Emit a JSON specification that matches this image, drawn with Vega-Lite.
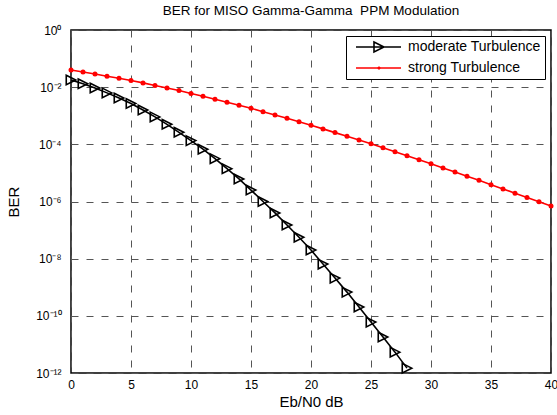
{
  "$schema": "https://vega.github.io/schema/vega-lite/v6.json",
  "autosize": {"type": "none"},
  "padding": {"left": 71, "top": 30, "right": 6, "bottom": 42},
  "width": 480,
  "height": 343,
  "background": "white",
  "title": {"text": "BER for MISO Gamma-Gamma\u00a0 PPM Modulation", "font": "Liberation Sans", "fontSize": 13.5, "fontWeight": "normal", "color": "#000", "anchor": "middle", "offset": 7},
  "config": {
    "view": {"stroke": "#000", "strokeWidth": 1.5},
    "axis": {
      "labelFont": "Liberation Sans", "labelFontSize": 12, "labelColor": "#000",
      "titleFont": "Liberation Sans", "titleFontSize": 15, "titleFontWeight": "normal", "titleColor": "#000",
      "ticks": false, "domain": false,
      "grid": true, "gridColor": "#555", "gridDash": [7, 8], "gridWidth": 1, "gridOpacity": 1
    }
  },
  "datasets": {
    "ber": [
      {"ebn0": 0, "ber": 0.0178, "series": "moderate Turbulence"},
      {"ebn0": 1, "ber": 0.0132, "series": "moderate Turbulence"},
      {"ebn0": 2, "ber": 0.00933, "series": "moderate Turbulence"},
      {"ebn0": 3, "ber": 0.00631, "series": "moderate Turbulence"},
      {"ebn0": 4, "ber": 0.00417, "series": "moderate Turbulence"},
      {"ebn0": 5, "ber": 0.00269, "series": "moderate Turbulence"},
      {"ebn0": 6, "ber": 0.00158, "series": "moderate Turbulence"},
      {"ebn0": 7, "ber": 0.000912, "series": "moderate Turbulence"},
      {"ebn0": 8, "ber": 0.000501, "series": "moderate Turbulence"},
      {"ebn0": 9, "ber": 0.000263, "series": "moderate Turbulence"},
      {"ebn0": 10, "ber": 0.000135, "series": "moderate Turbulence"},
      {"ebn0": 11, "ber": 6.76e-5, "series": "moderate Turbulence"},
      {"ebn0": 12, "ber": 3.16e-5, "series": "moderate Turbulence"},
      {"ebn0": 13, "ber": 1.41e-5, "series": "moderate Turbulence"},
      {"ebn0": 14, "ber": 6.17e-6, "series": "moderate Turbulence"},
      {"ebn0": 15, "ber": 2.51e-6, "series": "moderate Turbulence"},
      {"ebn0": 16, "ber": 1.0e-6, "series": "moderate Turbulence"},
      {"ebn0": 17, "ber": 3.98e-7, "series": "moderate Turbulence"},
      {"ebn0": 18, "ber": 1.51e-7, "series": "moderate Turbulence"},
      {"ebn0": 19, "ber": 5.62e-8, "series": "moderate Turbulence"},
      {"ebn0": 20, "ber": 2.0e-8, "series": "moderate Turbulence"},
      {"ebn0": 21, "ber": 6.46e-9, "series": "moderate Turbulence"},
      {"ebn0": 22, "ber": 2.09e-9, "series": "moderate Turbulence"},
      {"ebn0": 23, "ber": 6.76e-10, "series": "moderate Turbulence"},
      {"ebn0": 24, "ber": 2.04e-10, "series": "moderate Turbulence"},
      {"ebn0": 25, "ber": 6.03e-11, "series": "moderate Turbulence"},
      {"ebn0": 26, "ber": 1.82e-11, "series": "moderate Turbulence"},
      {"ebn0": 27, "ber": 5.37e-12, "series": "moderate Turbulence"},
      {"ebn0": 28, "ber": 1.48e-12, "series": "moderate Turbulence"},
      {"ebn0": 0, "ber": 0.0398, "series": "strong Turbulence"},
      {"ebn0": 1, "ber": 0.0339, "series": "strong Turbulence"},
      {"ebn0": 2, "ber": 0.0288, "series": "strong Turbulence"},
      {"ebn0": 3, "ber": 0.0240, "series": "strong Turbulence"},
      {"ebn0": 4, "ber": 0.0204, "series": "strong Turbulence"},
      {"ebn0": 5, "ber": 0.0170, "series": "strong Turbulence"},
      {"ebn0": 6, "ber": 0.0141, "series": "strong Turbulence"},
      {"ebn0": 7, "ber": 0.0115, "series": "strong Turbulence"},
      {"ebn0": 8, "ber": 0.00933, "series": "strong Turbulence"},
      {"ebn0": 9, "ber": 0.00759, "series": "strong Turbulence"},
      {"ebn0": 10, "ber": 0.00603, "series": "strong Turbulence"},
      {"ebn0": 11, "ber": 0.00479, "series": "strong Turbulence"},
      {"ebn0": 12, "ber": 0.00380, "series": "strong Turbulence"},
      {"ebn0": 13, "ber": 0.00295, "series": "strong Turbulence"},
      {"ebn0": 14, "ber": 0.00234, "series": "strong Turbulence"},
      {"ebn0": 15, "ber": 0.00182, "series": "strong Turbulence"},
      {"ebn0": 16, "ber": 0.00138, "series": "strong Turbulence"},
      {"ebn0": 17, "ber": 0.00107, "series": "strong Turbulence"},
      {"ebn0": 18, "ber": 0.000813, "series": "strong Turbulence"},
      {"ebn0": 19, "ber": 0.000617, "series": "strong Turbulence"},
      {"ebn0": 20, "ber": 0.000468, "series": "strong Turbulence"},
      {"ebn0": 21, "ber": 0.000347, "series": "strong Turbulence"},
      {"ebn0": 22, "ber": 0.000257, "series": "strong Turbulence"},
      {"ebn0": 23, "ber": 0.000191, "series": "strong Turbulence"},
      {"ebn0": 24, "ber": 0.000141, "series": "strong Turbulence"},
      {"ebn0": 25, "ber": 0.000105, "series": "strong Turbulence"},
      {"ebn0": 26, "ber": 7.59e-5, "series": "strong Turbulence"},
      {"ebn0": 27, "ber": 5.50e-5, "series": "strong Turbulence"},
      {"ebn0": 28, "ber": 3.98e-5, "series": "strong Turbulence"},
      {"ebn0": 29, "ber": 2.88e-5, "series": "strong Turbulence"},
      {"ebn0": 30, "ber": 2.09e-5, "series": "strong Turbulence"},
      {"ebn0": 31, "ber": 1.48e-5, "series": "strong Turbulence"},
      {"ebn0": 32, "ber": 1.07e-5, "series": "strong Turbulence"},
      {"ebn0": 33, "ber": 7.59e-6, "series": "strong Turbulence"},
      {"ebn0": 34, "ber": 5.50e-6, "series": "strong Turbulence"},
      {"ebn0": 35, "ber": 3.89e-6, "series": "strong Turbulence"},
      {"ebn0": 36, "ber": 2.75e-6, "series": "strong Turbulence"},
      {"ebn0": 37, "ber": 1.95e-6, "series": "strong Turbulence"},
      {"ebn0": 38, "ber": 1.38e-6, "series": "strong Turbulence"},
      {"ebn0": 39, "ber": 9.77e-7, "series": "strong Turbulence"},
      {"ebn0": 40, "ber": 6.92e-7, "series": "strong Turbulence"}
    ]
  },
  "data": {"name": "ber"},
  "encoding": {
    "x": {"field": "ebn0", "type": "quantitative", "title": "Eb/N0 dB",
      "scale": {"domain": [0, 40], "nice": false, "zero": false},
      "axis": {"values": [0, 5, 10, 15, 20, 25, 30, 35, 40], "labelPadding": 6, "titlePadding": 4, "labelFlush": false}},
    "y": {"field": "ber", "type": "quantitative", "title": "BER",
      "scale": {"type": "log", "domain": [1e-12, 1], "nice": false},
      "axis": {"values": [1, 0.01, 0.0001, 1e-6, 1e-8, 1e-10, 1e-12], "labelPadding": 10, "titlePadding": 14, "labelFlush": false,
        "labelExpr": "datum.value == 1 ? '10⁰' : datum.value > 0.005 ? '10⁻²' : datum.value > 5e-5 ? '10⁻⁴' : datum.value > 5e-7 ? '10⁻⁶' : datum.value > 5e-9 ? '10⁻⁸' : datum.value > 5e-11 ? '10⁻¹⁰' : '10⁻¹²'"}}
  },
  "layer": [
    {
      "transform": [{"filter": "datum.series == 'moderate Turbulence'"}],
      "mark": {"type": "line", "color": "#000", "strokeWidth": 1.6}
    },
    {
      "transform": [{"filter": "datum.series == 'moderate Turbulence'"}],
      "mark": {"type": "point", "shape": "M-1,-1L1,0L-1,1Z", "filled": false, "color": "#000", "size": 90, "strokeWidth": 1.6, "opacity": 1}
    },
    {
      "transform": [{"filter": "datum.series == 'strong Turbulence'"}],
      "mark": {"type": "line", "color": "#ff0000", "strokeWidth": 1.6}
    },
    {
      "transform": [{"filter": "datum.series == 'strong Turbulence'"}],
      "mark": {"type": "point", "shape": "circle", "filled": true, "color": "#ff0000", "size": 25, "opacity": 1}
    },
    {
      "mark": {"type": "point", "filled": false, "opacity": 0, "strokeWidth": 1.6},
      "encoding": {
        "color": {"field": "series", "type": "nominal",
          "scale": {"domain": ["moderate Turbulence", "strong Turbulence"], "range": ["#000", "#ff0000"]},
          "legend": {"title": null, "orient": "top-right", "offset": 6, "padding": 4, "rowPadding": 5,
            "symbolSize": 100, "symbolOpacity": 1, "symbolStrokeWidth": 1.6, "labelOffset": 44,
            "labelFont": "Liberation Sans", "labelFontSize": 14, "labelColor": "#000",
            "strokeColor": "#000", "fillColor": "white", "symbolFillColor": "transparent"}},
        "shape": {"field": "series", "type": "nominal",
          "scale": {"domain": ["moderate Turbulence", "strong Turbulence"],
            "range": ["M-0.2,0L8.8,0M3.4,-1L5.4,0L3.4,1Z", "M-0.2,0L8.8,0M4.1,0L4.7,0M4.4,-0.3L4.4,0.3M4.15,-0.2L4.65,0.2M4.15,0.2L4.65,-0.2"]},
          "legend": {"title": null, "orient": "top-right", "offset": 6, "padding": 4, "rowPadding": 5,
            "symbolSize": 100, "symbolOpacity": 1, "symbolStrokeWidth": 1.6, "labelOffset": 44,
            "labelFont": "Liberation Sans", "labelFontSize": 14, "labelColor": "#000",
            "strokeColor": "#000", "fillColor": "white", "symbolFillColor": "transparent"}}
      }
    }
  ]
}
